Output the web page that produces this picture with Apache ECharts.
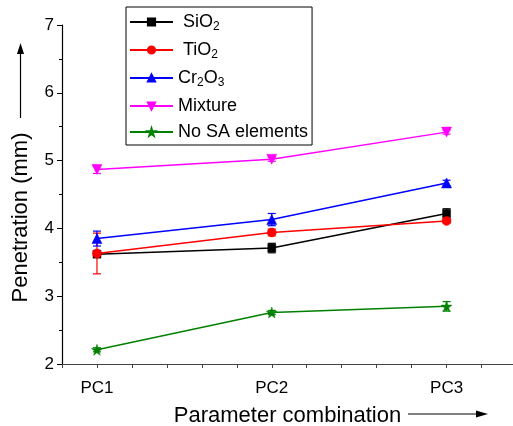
<!DOCTYPE html>
<html>
<head>
<meta charset="utf-8">
<script src="https://cdn.jsdelivr.net/npm/echarts@6/dist/echarts.min.js"></script>
<style>html,body{margin:0;padding:0;background:#fff;}#c{width:513px;height:426px;}</style>
</head>
<body>
<div id="c"></div>
<script>
var xPositions = [1, 2, 3];
var tickLabels = ['PC1', 'PC2', 'PC3'];
var seriesNames = ['SiO2', 'TiO2', 'Cr2O3', 'Mixture', 'No SA elements'];
var sio2 = [3.62, 3.71, 4.22];
var sio2Err = [0.03, 0.07, 0.07];
var tio2 = [3.63, 3.94, 4.11];
var tio2Err = [0.30, 0.05, 0.03];
var cr2o3 = [3.85, 4.13, 4.67];
var cr2o3Err = [0.11, 0.09, 0.04];
var mixture = [4.87, 5.02, 5.42];
var mixtureErr = [0.06, 0.03, 0.03];
var noSA = [2.21, 2.76, 2.85];
var noSAErr = [0.03, 0.03, 0.07];

var FONT = '"Liberation Sans", Arial, sans-serif';
var STAR = 'path://M50,0 L61,35 L98,35 L68,57 L79,91 L50,70 L21,91 L32,57 L2,35 L39,35 Z';

var defs = [
  {name: seriesNames[0], vals: sio2, err: sio2Err, color: '#000000', symbol: 'rect', size: 8, rot: 0},
  {name: seriesNames[1], vals: tio2, err: tio2Err, color: '#ff0000', symbol: 'circle', size: 9, rot: 0},
  {name: seriesNames[2], vals: cr2o3, err: cr2o3Err, color: '#0000ff', symbol: 'triangle', size: 10, rot: 0},
  {name: seriesNames[3], vals: mixture, err: mixtureErr, color: '#ff00ff', symbol: 'triangle', size: 10, rot: 180},
  {name: seriesNames[4], vals: noSA, err: noSAErr, color: '#008000', symbol: STAR, size: 11, rot: 0}
];

var series = [];
defs.forEach(function (d) {
  var errData = xPositions.map(function (x, i) { return [x, d.vals[i] - d.err[i], d.vals[i] + d.err[i]]; });
  series.push({
    type: 'custom',
    name: d.name + ' err',
    data: errData,
    z: 1,
    silent: true,
    renderItem: function (params, api) {
      var lo = api.coord([api.value(0), api.value(1)]);
      var hi = api.coord([api.value(0), api.value(2)]);
      var w = 4;
      var st = {stroke: d.color, lineWidth: 1.2};
      return {
        type: 'group',
        children: [
          {type: 'line', shape: {x1: lo[0], y1: lo[1], x2: hi[0], y2: hi[1]}, style: st},
          {type: 'line', shape: {x1: lo[0] - w, y1: lo[1], x2: lo[0] + w, y2: lo[1]}, style: st},
          {type: 'line', shape: {x1: hi[0] - w, y1: hi[1], x2: hi[0] + w, y2: hi[1]}, style: st}
        ]
      };
    }
  });
  series.push({
    type: 'line',
    name: d.name,
    data: xPositions.map(function (x, i) { return [x, d.vals[i]]; }),
    symbol: d.symbol,
    symbolSize: d.size,
    symbolRotate: d.rot,
    showAllSymbol: true,
    z: 3,
    lineStyle: {color: d.color, width: 1.5},
    itemStyle: {color: d.color, borderColor: d.color, borderWidth: 0.5},
    emphasis: {disabled: true}
  });
});

var legendRich = {
  n: {fontSize: 18, fontFamily: FONT, color: '#000'},
  s: {fontSize: 12, fontFamily: FONT, color: '#000', padding: [10, 0, 0, 0]}
};
var legendLabels = {
  'SiO2': ' {n|SiO}{s|2}',
  'TiO2': ' {n|TiO}{s|2}',
  'Cr2O3': '{n|Cr}{s|2}{n|O}{s|3}',
  'Mixture': '{n|Mixture}',
  'No SA elements': '{n|No SA elements}'
};

var chart = echarts.init(document.getElementById('c'), null, {renderer: 'canvas'});
chart.setOption({
  animation: false,
  backgroundColor: '#ffffff',
  grid: {left: 62, right: 0, top: 25, bottom: 62, containLabel: false, outerBoundsMode: 'none'},
  legend: {
    data: seriesNames,
    orient: 'vertical',
    left: 126,
    top: 7,
    itemWidth: 43,
    itemHeight: 9,
    itemGap: 8,
    padding: [6, 4, 4, 3],
    borderColor: '#000',
    borderWidth: 1,
    backgroundColor: '#fff',
    selectedMode: false,
    formatter: function (name) { return legendLabels[name]; },
    textStyle: {fontSize: 18, fontFamily: FONT, color: '#000', rich: legendRich}
  },
  xAxis: {
    type: 'value',
    min: 0.8,
    max: 3.38,
    interval: 0.2,
    name: 'Parameter combination',
    nameLocation: 'middle',
    nameGap: 41,
    nameTextStyle: {fontSize: 22, fontFamily: FONT, color: '#000'},
    axisLine: {show: true, onZero: false, lineStyle: {color: '#444', width: 1.2}},
    axisTick: {show: true, inside: false, length: 4, lineStyle: {color: '#444'}},
    splitLine: {show: false},
    axisLabel: {
      margin: 16,
      fontSize: 17,
      fontFamily: FONT,
      color: '#000',
      formatter: function (v) {
        var r = Math.round(v);
        if (Math.abs(v - r) < 1e-6) {
          var idx = xPositions.indexOf(r);
          return idx >= 0 ? tickLabels[idx] : '';
        }
        return '';
      }
    }
  },
  yAxis: {
    type: 'value',
    min: 2,
    max: 7,
    interval: 1,
    name: 'Penetration (mm)',
    nameLocation: 'middle',
    nameGap: 30,
    nameRotate: 90,
    nameTextStyle: {fontSize: 22, fontFamily: FONT, color: '#000', padding: [0, 46, 0, 0]},
    axisLine: {show: true, lineStyle: {color: '#000', width: 1.2}},
    axisTick: {show: true, inside: false, length: 5, lineStyle: {color: '#000'}},
    minorTick: {show: true, splitNumber: 2, length: 3, lineStyle: {color: '#000'}},
    splitLine: {show: false},
    minorSplitLine: {show: false},
    axisLabel: {margin: 8, fontSize: 17, fontFamily: FONT, color: '#000'}
  },
  graphic: [
    {type: 'line', shape: {x1: 20.5, y1: 118, x2: 20.5, y2: 52}, style: {stroke: '#000', lineWidth: 1.2}},
    {type: 'polygon', shape: {points: [[20.5, 43], [17, 54], [24, 54]]}, style: {fill: '#000'}},
    {type: 'line', shape: {x1: 408, y1: 414, x2: 478, y2: 414}, style: {stroke: '#000', lineWidth: 1.2}},
    {type: 'polygon', shape: {points: [[488, 414], [476, 410.5], [476, 417.5]]}, style: {fill: '#000'}}
  ],
  series: series
});
</script>
</body>
</html>
